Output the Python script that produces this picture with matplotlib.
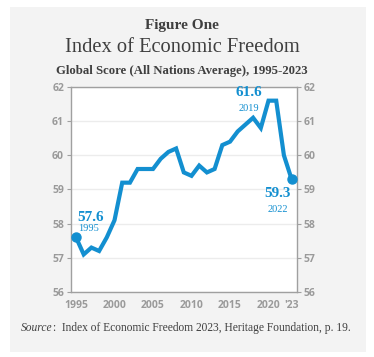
import matplotlib.pyplot as plt
from matplotlib.patches import Rectangle

years = list(range(1995, 2024))
scores = [57.6, 57.1, 57.3, 57.2, 57.6, 58.1, 59.2, 59.2, 59.6, 59.6,
          59.6, 59.9, 60.1, 60.2, 59.5, 59.4, 59.7, 59.5, 59.6, 60.3,
          60.4, 60.7, 60.9, 61.1, 60.8, 61.6, 61.6, 60.0, 59.3]
x_ticks = [1995, 2000, 2005, 2010, 2015, 2020, 2023]
x_labels = ['1995', '2000', '2005', '2010', '2015', '2020', "'23"]
y_ticks = [56, 57, 58, 59, 60, 61, 62]

blue = '#138fd0'
dark = '#3f3f3f'
tick_gray = '#9a9a9a'
serif = ['Liberation Serif', 'DejaVu Serif']
sans = ['Open Sans', 'DejaVu Sans']

fig = plt.figure(figsize=(3.74, 3.57), dpi=100)
fig.patch.set_facecolor('white')
fig.patches.append(Rectangle((10 / 374, 5 / 357), 356 / 374, 345 / 357,
                             transform=fig.transFigure, facecolor='#f3f3f3',
                             edgecolor='none', zorder=-10))

ax = fig.add_axes([71 / 374, 1 - 292 / 357, 226 / 374, 205 / 357])
ax.set_facecolor('white')
ax.plot(years, scores, color=blue, lw=3.0, solid_joinstyle='miter', zorder=3)
ax.plot([years[0], years[-1]], [scores[0], scores[-1]], 'o', color=blue, ms=6.5, zorder=4)

ax.set_xlim(1994.35, 2023.7)
ax.set_ylim(56, 62)
ax.set_yticks(y_ticks)
ax.set_xticks(x_ticks)
ax.set_xticklabels(x_labels)
ax.grid(axis='y', color='#ececec', lw=1)
ax.set_axisbelow(True)
for s in ax.spines.values():
    s.set_color('#a0a0a0')
    s.set_linewidth(1)
ax.tick_params(axis='both', colors='#a0a0a0', labelcolor=tick_gray, length=3,
               labelsize=7.5, pad=2)
ax.tick_params(axis='y', right=True, labelright=True)
ax.tick_params(axis='x', length=0, pad=6)
for lab in ax.get_xticklabels() + ax.get_yticklabels():
    lab.set_family(sans)
    lab.set_fontweight('bold')

# value annotations
ax.text(1995.2, 58.0, '57.6', color=blue, family=serif, fontsize=11,
        fontweight='bold', ha='left', va='bottom')
ax.text(1995.3, 57.86, '1995', color=blue, family=serif, fontsize=7.5,
        ha='left', va='center')
ax.text(2017.5, 61.65, '61.6', color=blue, family=serif, fontsize=11,
        fontweight='bold', ha='center', va='bottom')
ax.text(2017.5, 61.37, '2019', color=blue, family=serif, fontsize=7.5,
        ha='center', va='center')
ax.text(2021.2, 58.7, '59.3', color=blue, family=serif, fontsize=11,
        fontweight='bold', ha='center', va='bottom')
ax.text(2021.2, 58.42, '2022', color=blue, family=serif, fontsize=7.5,
        ha='center', va='center')

fig.text(0.487, 1 - 25 / 357, 'Figure One', color=dark, family=serif,
         fontsize=11, fontweight='bold', ha='center', va='center')
fig.text(0.487, 1 - 47 / 357, 'Index of Economic Freedom', color=dark,
         family=serif, fontsize=14.8, ha='center', va='center')
fig.text(0.487, 1 - 71 / 357, 'Global Score (All Nations Average), 1995-2023',
         color=dark, family=serif, fontsize=9.2, fontweight='bold',
         ha='center', va='center')

# source line: italic "Source" followed by the rest in upright type
src = fig.text(21 / 374, 1 - 331 / 357, 'Source', color=dark, family=serif,
               fontsize=8.3, style='italic', ha='left', va='baseline')
ax.annotate(':  Index of Economic Freedom 2023, Heritage Foundation, p. 19.',
            xy=(1, 0), xycoords=src, xytext=(0.5, 0), textcoords='offset points',
            color=dark, family=serif, fontsize=8.3, ha='left', va='bottom',
            annotation_clip=False)

fig.savefig('out.png', dpi=100)
